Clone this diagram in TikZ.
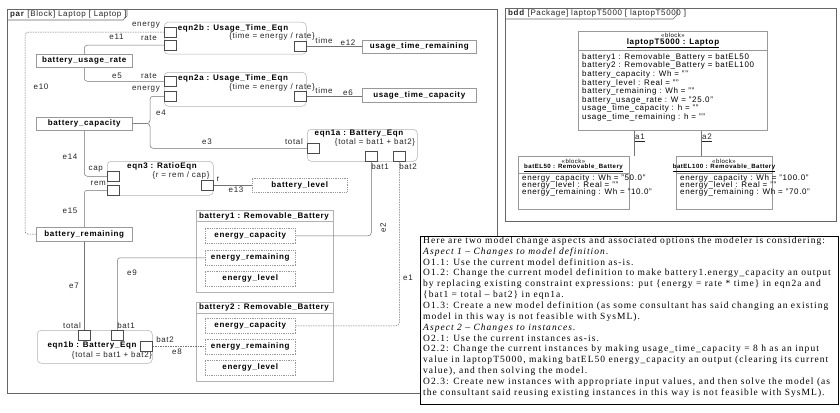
\documentclass[tikz,border=0pt]{standalone}
\usepackage{fontspec}
\setmainfont{Liberation Sans}[LetterSpace=8]
\newfontfamily\txtfont{Liberation Serif}[LetterSpace=11]
\usetikzlibrary{calc}
\begin{document}
\begin{tikzpicture}[x=1pt,y=-1pt, font=\fontsize{8}{9}\selectfont,
  frm/.style={draw=black!60, line width=0.6pt},
  blk/.style={draw=black!30, line width=0.5pt, rounded corners=4pt, fill=white, anchor=north west, inner sep=0pt},
  part/.style={draw=black!30, line width=0.5pt, fill=white, anchor=north west, inner sep=0pt},
  vp/.style={draw=black!40, line width=0.5pt, fill=white, inner sep=0pt, anchor=north west, font=\fontsize{8}{9}\selectfont\bfseries},
  vpd/.style={vp, dash pattern=on 1pt off 0.8pt},
  port/.style={draw=black!70, line width=0.5pt, fill=white, minimum width=12pt, minimum height=10pt, inner sep=0pt, anchor=north west},
  cn/.style={draw=black!55, line width=0.5pt, rounded corners=3pt},
  cnd/.style={cn, dash pattern=on 1.5pt off 1pt},
  lb/.style={inner sep=0pt, text=black!85},
  ttl/.style={inner sep=0pt, font=\fontsize{8}{9}\selectfont\bfseries},
  bttl/.style={inner sep=0pt, font=\fontsize{6.1}{7}\selectfont\bfseries},
  ster/.style={inner sep=0pt, font=\fontsize{6}{6.5}\selectfont},
  attr/.style={inner sep=0pt, anchor=west},
  txl/.style={inner sep=0pt, anchor=west, font=\txtfont\fontsize{9.5}{10}\selectfont},
]
\useasboundingbox (0,0) rectangle (840,412);
\fill[white] (0,0) rectangle (840,412);

% ===== par frame =====
\draw[frm] (7,9) rectangle (497,393);
\draw[frm] (7,20) -- (123,20) -- (127,16) -- (127,9);
\node[lb, anchor=west] (partitle) at (10,14.5) {\textbf{par} [Block] Laptop [ Laptop ]};

% eqn2b
\node[blk, minimum width=142pt, minimum height=32pt] (eqn2b) at (164,22) {};
\node[ttl] (eqn2bT) at (233,28) {eqn2b : Usage\_Time\_Eqn};
\node[lb] (eqn2bS) at (272,36) {\{time = energy / rate\}};
\node[port] (p2ben) at (164,27) {};
\node[port] (p2bra) at (164,40) {};
\node[port] (p2bt) at (294,41) {};

% eqn2a
\node[blk, minimum width=142pt, minimum height=34pt] (eqn2a) at (164,72) {};
\node[ttl] (eqn2aT) at (233,78) {eqn2a : Usage\_Time\_Eqn};
\node[lb] (eqn2aS) at (272,87) {\{time = energy / rate\}};
\node[port] (p2ara) at (164,76) {};
\node[port] (p2aen) at (164,91) {};
\node[port] (p2at) at (294,91) {};

% eqn1a
\node[blk, minimum width=110pt, minimum height=32pt] (eqn1a) at (307,129) {};
\node[ttl] (eqn1aT) at (359,133.5) {eqn1a : Battery\_Eqn};
\node[lb] (eqn1aS) at (375,142.5) {\{total = bat1 + bat2\}};
\node[port] (p1atot) at (307,143) {};
\node[port] (p1ab1) at (365,151) {};
\node[port] (p1ab2) at (393,151) {};

% eqn3
\node[blk, minimum width=106pt, minimum height=34pt] (eqn3) at (107,161) {};
\node[ttl] (eqn3T) at (162,166) {eqn3 : RatioEqn};
\node[lb] (eqn3S) at (181,175) {\{r = rem / cap\}};
\node[port] (p3cap) at (107,171) {};
\node[port] (p3rem) at (107,185) {};
\node[port] (p3r) at (201,180) {};

% eqn1b
\node[blk, minimum width=115pt, minimum height=33pt] (eqn1b) at (37,330) {};
\node[ttl] (eqn1bT) at (92,345) {eqn1b : Battery\_Eqn};
\node[lb] (eqn1bS) at (112,355) {\{total = bat1 + bat2\}};
\node[port] (p1btot) at (78,330) {};
\node[port] (p1bb1) at (111,330) {};
\node[port] (p1bb2) at (140,341) {};

% value properties
\node[vp, minimum width=96pt, minimum height=13pt] (bur) at (36,54) {battery\_usage\_rate};
\node[vp, minimum width=96pt, minimum height=13pt] (bc) at (36,117) {battery\_capacity};
\node[vp, minimum width=96pt, minimum height=14pt] (br) at (36,227) {battery\_remaining};
\node[vp, minimum width=114pt, minimum height=13pt] (utr) at (362,40) {usage\_time\_remaining};
\node[vp, minimum width=114pt, minimum height=14pt] (utc) at (362,88) {usage\_time\_capacity};
\node[vpd, minimum width=95pt, minimum height=14pt] (bl) at (252,178) {battery\_level};

% battery parts
\node[part, minimum width=137pt, minimum height=82pt] (bat1) at (196,210) {};
\draw[black!30] ($(bat1.north west)+(0,11)$) -- ($(bat1.north east)+(0,11)$);
\node[ttl] (bat1T) at (264,216) {battery1 : Removable\_Battery};
\node[vpd, minimum width=90pt, minimum height=15pt] (b1ec) at (205,228) {energy\_capacity};
\node[vpd, minimum width=90pt, minimum height=15pt] (b1er) at (205,250) {energy\_remaining};
\node[vpd, minimum width=90pt, minimum height=15pt] (b1el) at (205,271) {energy\_level};

\node[part, minimum width=137pt, minimum height=79pt] (bat2) at (196,302) {};
\draw[black!30] ($(bat2.north west)+(0,11)$) -- ($(bat2.north east)+(0,11)$);
\node[ttl] (bat2T) at (264,307.5) {battery2 : Removable\_Battery};
\node[vpd, minimum width=90pt, minimum height=15pt] (b2ec) at (205,318) {energy\_capacity};
\node[vpd, minimum width=90pt, minimum height=15pt] (b2er) at (205,339) {energy\_remaining};
\node[vpd, minimum width=90pt, minimum height=15pt] (b2el) at (205,360) {energy\_level};

% connectors
\coordinate (j4) at (150,123.5);
\coordinate (c10) at (25,234);
\draw[cn] (bur.north) |- (p2bra.west);
\draw[cn] (bur.south) |- (p2ara.west);
\draw[cn] (bc.east) -- (j4) |- (p2aen.west);
\draw[cn] (bc.east) -- (j4) |- (p1atot.west);
\draw[cn] (bc.south) |- (p3cap.west);
\draw[cn] (br.north) |- (p3rem.west);
\draw[cn] (br.south) -- (p1btot.north);
\draw[cn] (p3r.east) -- (p3r.east -| bl.west);
\draw[cn] (p2bt.east) -- (p2bt.east -| utr.west);
\draw[cn] (p2at.east) -- (p2at.east -| utc.west);
\draw[cnd] (p2ben.west) -| (c10) -- (br.west);
\draw[cn] (p1ab1.south) |- (b1ec.east);
\draw[cnd] (p1ab2.south) |- (b2ec.east);
\draw[cn] (b1er.west) -| (p1bb1.north);
\draw[cnd] (p1bb2.east) -- (p1bb2.east -| b2er.west);

% labels
\node[lb, anchor=east] (l1) at (160,25) {energy};
\node[lb, anchor=east] (l2) at (157,38) {rate};
\node[lb] (l3) at (116.5,37) {e11};
\node[lb, anchor=east] (l4) at (157,76) {rate};
\node[lb, anchor=east] (l5) at (160,89) {energy};
\node[lb] (l6) at (117,76) {e5};
\node[lb] (l7) at (324,41) {time};
\node[lb] (l8) at (348,43) {e12};
\node[lb] (l9) at (324,91) {time};
\node[lb] (l10) at (348,93) {e6};
\node[lb] (l11) at (41,87) {e10};
\node[lb] (l12) at (161,113) {e4};
\node[lb] (l13) at (207,142) {e3};
\node[lb, anchor=east] (l14) at (303,142) {total};
\node[lb] (l15) at (380,167) {bat1};
\node[lb] (l16) at (408,167) {bat2};
\node[lb, anchor=east] (l17) at (103,169) {cap};
\node[lb, anchor=east] (l18) at (106,183) {rem};
\node[lb] (l19) at (218,179) {r};
\node[lb] (l20) at (236,190) {e13};
\node[lb] (l21) at (70,157) {e14};
\node[lb] (l22) at (70,211) {e15};
\node[lb, rotate=90] (l23) at (383,228) {e2};
\node[lb] (l24) at (408,278) {e1};
\node[lb] (l25) at (132,273) {e9};
\node[lb] (l26) at (74,286) {e7};
\node[lb] (l27) at (72,326) {total};
\node[lb] (l28) at (126,326) {bat1};
\node[lb] (l29) at (165,340) {bat2};
\node[lb] (l30) at (177,352) {e8};

% ===== bdd frame =====
\draw[frm] (505,8) rectangle (836,221);
\draw[frm] (505,19) -- (673,19) -- (677,15) -- (677,8);
\node[lb, anchor=west] (bddtitle) at (508,13.5) {\textbf{bdd} [Package] laptopT5000 [ laptopT5000 ]};

\node[part, draw=black!40, minimum width=189pt, minimum height=99pt] (lap) at (578,31) {};
\node[ster] (lapS) at (673,35) {«block»};
\node[ttl] (lapN) at (673,43) {\underline{laptopT5000 : Laptop}};
\draw[black!40] ($(lap.north west)+(0,19)$) -- ($(lap.north east)+(0,19)$);
\foreach \t [count=\i] in {battery1 : Removable\_Battery = batEL50,
  battery2 : Removable\_Battery = batEL100,
  battery\_capacity : Wh = "",
  battery\_level : Real = "",
  battery\_remaining : Wh = "",
  battery\_usage\_rate : W = "25.0",
  usage\_time\_capacity : h = "",
  usage\_time\_remaining : h = ""}
  \node[attr] (la\i) at (582,{57.3+8.57*(\i-1)}) {\t};

\node[part, draw=black!40, minimum width=111pt, minimum height=53pt] (b50) at (518,156) {};
\node[ster] (b50S) at (573.5,161) {«block»};
\node[bttl] (b50N) at (573.5,168.3) {\underline{batEL50 : Removable\_Battery}};
\draw[black!40] ($(b50.north west)+(0,17)$) -- ($(b50.north east)+(0,17)$);
\node[attr] (b50a1) at (522,178.5) {energy\_capacity : Wh = "50.0"};
\node[attr] (b50a2) at (522,185.5) {energy\_level : Real = ""};
\node[attr] (b50a3) at (522,192.5) {energy\_remaining : Wh = "10.0"};

\node[part, draw=black!40, minimum width=96pt, minimum height=53pt] (b100) at (676,156) {};
\node[ster] (b100S) at (724,161) {«block»};
\node[bttl] (b100N) at (724,168.3) {\underline{batEL100 : Removable\_Battery}};
\draw[black!40] ($(b100.north west)+(0,17)$) -- ($(b100.north east)+(0,17)$);
\node[attr] (b100a1) at (680,178.5) {energy\_capacity : Wh = "100.0"};
\node[attr] (b100a2) at (680,185.5) {energy\_level : Real = ""};
\node[attr] (b100a3) at (680,192.5) {energy\_remaining : Wh = "70.0"};

\draw[cn] (634,0 |- lap.south) -- (634,0 |- b50.north);
\draw[cn] (701,0 |- lap.south) -- (701,0 |- b100.north);
\node[lb] (a1) at (640,138) {\underline{a1}};
\node[lb] (a2) at (707,138) {\underline{a2}};

% ===== text box =====
\node[draw=black, line width=0.6pt, fill=white, anchor=north west, minimum width=418pt, minimum height=168pt, inner sep=0pt] (tbox) at (420,236) {};
\foreach \t [count=\i] in {
  Here are two model change aspects and associated options the modeler is considering:,
  \textit{Aspect 1 – Changes to model definition.},
  O1.1: Use the current model definition as-is.,
  O1.2: Change the current model definition to make battery1.energy\_capacity an output,
  by replacing existing constraint expressions: put \{energy = rate * time\} in eqn2a and,
  \{bat1 = total – bat2\} in eqn1a.,
  O1.3: Create a new model definition (as some consultant has said changing an existing,
  model in this way is not feasible with SysML).,
  \textit{Aspect 2 – Changes to instances.},
  O2.1: Use the current instances as-is.,
  O2.2: Change the current instances by making usage\_time\_capacity = 8 h as an input,
  {value in laptopT5000, making batEL50 energy\_capacity an output (clearing its current},
  {value), and then solving the model.},
  {O2.3: Create new instances with appropriate input values, and then solve the model (as},
  the consultant said reusing existing instances in this way is not feasible with SysML).}
  \node[txl] (tx\i) at (423,{241+10.857*(\i-1)}) {\t};
\end{tikzpicture}
\end{document}
